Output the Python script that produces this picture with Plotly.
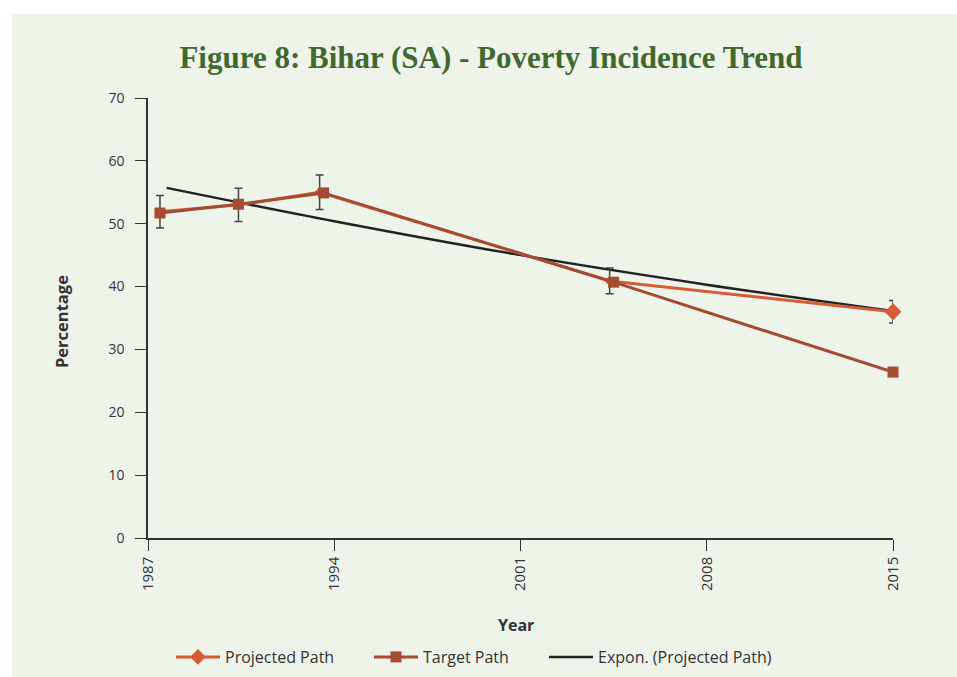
import plotly.graph_objects as go

# Poverty incidence in Bihar (%), by survey year
projected_years = [1987.45, 1990.4, 1993.45, 2004.35, 2015.0]
projected_values = [51.9, 53.0, 55.0, 40.9, 36.0]

target_years = [1987.45, 1990.4, 1993.6, 2004.5, 2015.0]
target_values = [51.7, 53.1, 54.9, 40.7, 26.4]

# Exponential trend of the projected path
trend_years = [1987.7, 1994.0, 2001.0, 2008.0, 2015.0]
trend_values = [55.7, 50.4, 45.0, 40.3, 36.1]

x_ticks = [1987, 1994, 2001, 2008, 2015]
y_ticks = [0, 10, 20, 30, 40, 50, 60, 70]

ORANGE = "#d65c36"
BROWN = "#a34b33"
BLACK = "#222222"
PANEL = "#eff4eb"
TEXT = "#333333"
FONT = "Open Sans"

W, H = 957, 677
L, R, T, B = 148, 64, 98, 139
plot_w = W - L - R
plot_h = H - T - B


def px_x(px):
    return (px - L) / plot_w


def px_y(py):
    return (H - B - py) / plot_h


fig = go.Figure()

fig.add_trace(go.Scatter(
    x=trend_years, y=trend_values, name="Expon. (Projected Path)",
    mode="lines", cliponaxis=False,
    line=dict(color=BLACK, width=2.5, shape="spline"),
    legend="legend3",
))

# Projected path: small diamonds sit under the target squares, the 2015 one shows
fig.add_trace(go.Scatter(
    x=projected_years, y=projected_values, name="Projected Path",
    mode="lines+markers", cliponaxis=False, showlegend=False,
    line=dict(color=ORANGE, width=3),
    marker=dict(symbol="diamond", size=[8, 8, 8, 8, 13], color=ORANGE,
                opacity=1, line=dict(width=0)),
    error_y=dict(type="percent", value=5, color="#444444", thickness=1.5, width=4),
))
# legend entry for the projected path
fig.add_trace(go.Scatter(
    x=[None], y=[None], name="Projected Path", mode="lines+markers",
    line=dict(color=ORANGE, width=3),
    marker=dict(symbol="diamond", size=12, color=ORANGE),
    legend="legend",
))

fig.add_trace(go.Scatter(
    x=target_years, y=target_values, name="Target Path",
    mode="lines+markers", cliponaxis=False,
    line=dict(color=BROWN, width=3),
    marker=dict(symbol="square", size=11, color=BROWN),
    legend="legend2",
))

legend_common = dict(
    orientation="h", yanchor="middle", xanchor="left",
    xref="container", yref="container",
    bgcolor="rgba(0,0,0,0)", font=dict(family=FONT, size=16, color=TEXT),
    itemwidth=44,
)
legend_y = 1 - 657 / H

fig.update_layout(
    width=W, height=H,
    margin=dict(l=L, r=R, t=T, b=B),
    paper_bgcolor=PANEL, plot_bgcolor="rgba(0,0,0,0)",
    font=dict(family=FONT, color=TEXT, size=14),
    title=dict(
        text="<b>Figure 8: Bihar (SA) - Poverty Incidence Trend</b>",
        x=491 / W, xref="container", xanchor="center",
        y=1 - 57 / H, yref="container", yanchor="middle",
        font=dict(family="Liberation Serif", size=31, color="#41692f"),
    ),
    xaxis=dict(
        range=[1987, 2015], tickvals=x_ticks, ticktext=[str(v) for v in x_ticks],
        tickangle=-90, ticks="outside", ticklen=11, tickwidth=1.2, tickcolor=TEXT,
        showline=True, linecolor=TEXT, linewidth=1.5, showgrid=False, zeroline=False,
        tickfont=dict(family=FONT, size=15, color=TEXT),
    ),
    yaxis=dict(
        range=[0, 70], tickvals=y_ticks, ticks="outside", ticklen=11, tickwidth=1.2,
        tickcolor=TEXT, showline=True, linecolor=TEXT, linewidth=1.5,
        showgrid=False, zeroline=False, ticklabelstandoff=8,
        tickfont=dict(family=FONT, size=14, color=TEXT),
    ),
    showlegend=True,
    legend=dict(x=171 / W, y=legend_y, **legend_common),
    legend2=dict(x=369 / W, y=legend_y, **legend_common),
    legend3=dict(x=544 / W, y=legend_y, **legend_common),
    annotations=[
        dict(text="<b>Percentage</b>", x=px_x(61), y=px_y(322), xref="paper", yref="paper",
             textangle=-90, showarrow=False, font=dict(family=FONT, size=16.5, color=TEXT),
             xanchor="center", yanchor="middle"),
        dict(text="<b>Year</b>", x=px_x(516), y=px_y(625), xref="paper", yref="paper",
             showarrow=False, font=dict(family=FONT, size=16, color=TEXT),
             xanchor="center", yanchor="middle"),
    ],
    shapes=[
        dict(type="rect", xref="paper", yref="paper", layer="below",
             x0=px_x(0), x1=px_x(12), y0=px_y(H), y1=px_y(0),
             fillcolor="white", line=dict(width=0)),
        dict(type="rect", xref="paper", yref="paper", layer="below",
             x0=px_x(0), x1=px_x(W), y0=px_y(14), y1=px_y(0),
             fillcolor="white", line=dict(width=0)),
    ],
)

fig.write_html("out.html")
